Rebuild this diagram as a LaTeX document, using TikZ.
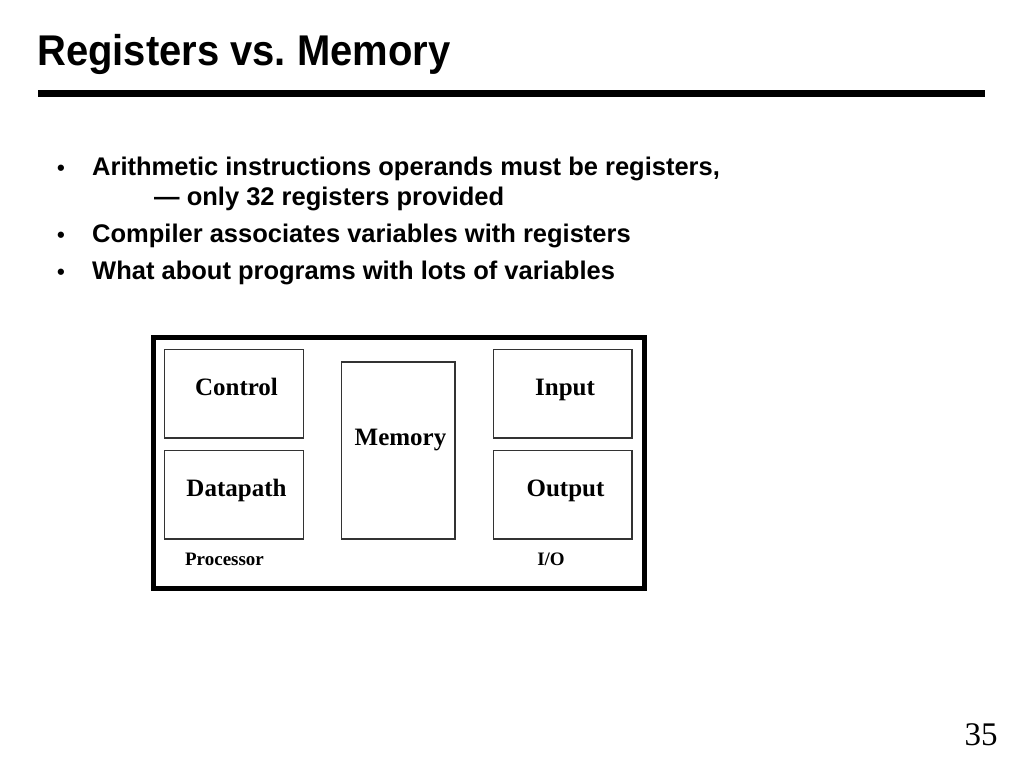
\documentclass[tikz,border=0pt]{standalone}
\usepackage{fontspec}
\setmainfont{Liberation Serif}
\setsansfont{Liberation Sans}
\frenchspacing
\begin{document}
\begin{tikzpicture}[x=1pt,y=-1pt,
  box/.style={draw=black!80,line width=1.3pt},
  boxlabel/.style={font=\fontsize{25}{30}\selectfont\bfseries\rmfamily,anchor=base,inner sep=0pt},
  small/.style={font=\fontsize{19}{23}\selectfont\bfseries\rmfamily,anchor=base,inner sep=0pt},
  bul/.style={font=\fontsize{25.5}{30}\selectfont\bfseries\sffamily,anchor=base west,inner sep=0pt}]
\useasboundingbox (0,0) rectangle (1024,768);
\node[font=\fontsize{43}{50}\selectfont\bfseries\sffamily,anchor=base west,inner sep=0pt,xscale=0.93] (title) at (37,66) {Registers vs. Memory};
\draw[line width=7pt] (38,93.5) -- (985,93.5);
% bullets
\node[bul,font=\fontsize{22}{26}\selectfont\bfseries\sffamily] (b1) at (57,175) {•};
\node[bul] (t1) at (92,175) {Arithmetic instructions operands must be registers,};
\node[bul] (t1b) at (154,205) {— only 32 registers provided};
\node[bul,font=\fontsize{22}{26}\selectfont\bfseries\sffamily] (b2) at (57,242) {•};
\node[bul] (t2) at (92,242) {Compiler associates variables with registers};
\node[bul,font=\fontsize{22}{26}\selectfont\bfseries\sffamily] (b3) at (57,279) {•};
\node[bul] (t3) at (92,279) {What about programs with lots of variables};
% diagram
\draw[line width=5pt] (153,337.5) rectangle (644,588);
\draw[box] (164.5,349.5) rectangle (303.5,438);
\draw[box] (164.5,450.5) rectangle (303.5,539);
\draw[box] (341.5,362) rectangle (455,539);
\draw[box] (493.5,349.5) rectangle (632,438);
\draw[box] (493.5,450.5) rectangle (632,539);
\node[boxlabel] (control) at (236.5,395) {Control};
\node[boxlabel] (datapath) at (236.5,496) {Datapath};
\node[boxlabel] (memory) at (400.5,445) {Memory};
\node[boxlabel] (input) at (565,395) {Input};
\node[boxlabel] (output) at (565.5,496) {Output};
\node[small] (proc) at (224.5,565) {Processor};
\node[small] (io) at (551,565) {I/O};
\node[font=\fontsize{33}{38}\selectfont\rmfamily,anchor=base,inner sep=0pt] (pg) at (981,745) {35};
\end{tikzpicture}
\end{document}
